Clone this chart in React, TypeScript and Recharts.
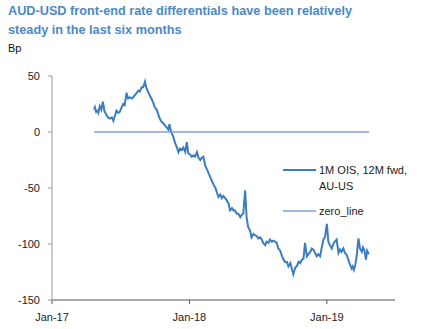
import React from 'react';
import { LineChart, Line, XAxis, YAxis, Legend } from 'recharts';

const dates = [
  '2017-04-23','2017-04-25','2017-04-28','2017-05-01','2017-05-04','2017-05-08','2017-05-12','2017-05-16','2017-05-18','2017-05-20',
  '2017-05-23','2017-05-26','2017-05-30','2017-06-04','2017-06-09','2017-06-13','2017-06-17','2017-06-21','2017-06-26','2017-06-30',
  '2017-07-05','2017-07-09','2017-07-13','2017-07-18','2017-07-22','2017-07-27','2017-08-02','2017-08-09','2017-08-14','2017-08-18',
  '2017-08-22','2017-08-27','2017-08-31','2017-09-05','2017-09-08','2017-09-13','2017-09-17','2017-09-22','2017-09-27','2017-10-01',
  '2017-10-06','2017-10-10','2017-10-14','2017-10-19','2017-10-23','2017-10-28','2017-11-02','2017-11-06','2017-11-09','2017-11-12',
  '2017-11-15','2017-11-20','2017-11-24','2017-11-29','2017-12-03','2017-12-07','2017-12-12','2017-12-16','2017-12-21','2017-12-25',
  '2017-12-29','2018-01-03','2018-01-07','2018-01-12','2018-01-16','2018-01-21','2018-01-25','2018-01-30','2018-02-03','2018-02-07',
  '2018-02-12','2018-02-16','2018-02-21','2018-02-25','2018-03-02','2018-03-06','2018-03-11','2018-03-15','2018-03-19','2018-03-24',
  '2018-03-28','2018-04-01','2018-04-06','2018-04-10','2018-04-15','2018-04-19','2018-04-24','2018-04-28','2018-05-02','2018-05-07',
  '2018-05-11','2018-05-16','2018-05-20','2018-05-24','2018-05-29','2018-06-02','2018-06-06','2018-06-11','2018-06-15','2018-06-20',
  '2018-06-24','2018-06-29','2018-07-03','2018-07-08','2018-07-12','2018-07-16','2018-07-21','2018-07-25','2018-07-30','2018-08-03',
  '2018-08-08','2018-08-12','2018-08-17','2018-08-21','2018-08-25','2018-08-30','2018-09-03','2018-09-08','2018-09-12','2018-09-17',
  '2018-09-21','2018-09-26','2018-09-30','2018-10-04','2018-10-09','2018-10-13','2018-10-18','2018-10-22','2018-10-27','2018-10-31',
  '2018-11-04','2018-11-09','2018-11-13','2018-11-18','2018-11-22','2018-11-26','2018-12-01','2018-12-05','2018-12-09','2018-12-14',
  '2018-12-18','2018-12-23','2018-12-27','2019-01-01','2019-01-05','2019-01-09','2019-01-14','2019-01-18','2019-01-22','2019-01-27',
  '2019-02-01','2019-02-05','2019-02-09','2019-02-14','2019-02-18','2019-02-23','2019-02-27','2019-03-03','2019-03-08','2019-03-11',
  '2019-03-14','2019-03-18','2019-03-21','2019-03-26','2019-03-30','2019-04-04','2019-04-07','2019-04-10','2019-04-15','2019-04-18',
  '2019-04-21','2019-04-23',
];

const oisValues = [
  20, 22, 18, 19, 17, 23, 20, 27, 24, 19,
  17, 15, 13, 12, 13, 10, 14, 19, 17, 18,
  22, 25, 24, 35, 30, 31, 30, 33, 35, 37,
  36, 40, 40, 45, 40, 36, 33, 30, 26, 22,
  20, 16, 12, 9, 8, 6, 4, 2, 7, 2,
  -1, -5, -10, -14, -18, -15, -16, -14, -18, -9,
  -19, -20, -22, -21, -22, -18, -23, -25, -23, -22,
  -30, -33, -37, -40, -44, -47, -50, -54, -58, -56,
  -59, -57, -59, -61, -64, -70, -68, -70, -70, -73,
  -73, -76, -74, -73, -52, -77, -85, -88, -94, -91,
  -92, -93, -95, -94, -96, -99, -101, -98, -99, -96,
  -98, -97, -98, -99, -104, -106, -110, -114, -116, -116,
  -120, -117, -122, -127, -121, -120, -116, -117, -114, -113,
  -99, -111, -109, -107, -104, -105, -108, -111, -109, -111,
  -104, -96, -94, -82, -98, -101, -104, -100, -98, -96,
  -108, -105, -107, -104, -108, -110, -114, -118, -122, -120,
  -123, -118, -111, -95, -104, -107, -103, -105, -114, -106,
  -108, -109,
];

const zeroLineValue = 0;
const seriesNames = ['1M OIS, 12M fwd, AU-US', 'zero_line'];
const seriesColors = ['#3b7dc0', '#7fa3d0'];
const yTicks = [-150, -100, -50, 0, 50];
const xTickDates = ['2017-01-01', '2018-01-01', '2019-01-01'];
const xDomainDates = ['2017-01-01', '2019-07-01'];
const monthNames = ['Jan', 'Feb', 'Mar', 'Apr', 'May', 'Jun', 'Jul', 'Aug', 'Sep', 'Oct', 'Nov', 'Dec'];
const titleLines = ['AUD-USD front-end rate differentials have been relatively', 'steady in the last six months'];
const unitLabel = 'Bp';

const toTime = (s: string) => Date.parse(s + 'T00:00:00Z');
const data = dates.map((d, i) => ({ t: toTime(d), ois: oisValues[i], zero: zeroLineValue }));

const fmtDate = (t: number) => {
  const d = new Date(t);
  return `${monthNames[d.getUTCMonth()]}-${String(d.getUTCFullYear()).slice(2)}`;
};

const FONT = '"Liberation Sans", Arial, sans-serif';

const legendTops = [170, 211];

const renderLegend = (props: any) => {
  const payload = props.payload || [];
  return (
    <div style={{ position: 'relative', width: 0, height: 0 }}>
      {payload.map((entry: any, i: number) => (
        <div key={i}>
          <svg style={{ position: 'absolute', left: 283, top: legendTops[i] - 2, overflow: 'visible' }} width={34} height={4}>
            <line x1={0} y1={2} x2={33} y2={2} stroke={entry.color} strokeWidth={i === 0 ? 2 : 1.6} />
          </svg>
          <div
            style={{
              position: 'absolute',
              left: 319,
              top: legendTops[i] - 8.25,
              width: 92,
              fontFamily: FONT,
              fontSize: 11,
              lineHeight: '16.5px',
              color: '#222',
            }}
          >
            {entry.value}
          </div>
        </div>
      ))}
    </div>
  );
};

export default function App() {
  return (
    <div style={{ position: 'absolute', left: 0, top: 0, width: 421, height: 329, background: '#fff', fontFamily: FONT }}>
      <div
        style={{
          position: 'absolute',
          left: 8,
          top: 2,
          fontFamily: FONT,
          fontWeight: 'bold',
          fontSize: 12.7,
          lineHeight: '19px',
          color: '#4a89c8',
          whiteSpace: 'nowrap',
        }}
      >
        {titleLines[0]}
        <br />
        {titleLines[1]}
      </div>
      <div style={{ position: 'absolute', left: 8, top: 42, fontFamily: FONT, fontSize: 11, lineHeight: '13px', color: '#111' }}>
        {unitLabel}
      </div>
      <div style={{ position: 'absolute', left: 0, top: 0 }}>
        <LineChart width={421} height={329} data={data} margin={{ top: 76, right: 26, bottom: 9, left: 8 }}>
          <XAxis
            dataKey="t"
            type="number"
            domain={[toTime(xDomainDates[0]), toTime(xDomainDates[1])]}
            ticks={xTickDates.map(toTime)}
            tickFormatter={fmtDate}
            allowDataOverflow
            height={20}
            tickSize={4}
            tickMargin={9}
            axisLine={{ stroke: '#555' }}
            tickLine={{ stroke: '#555' }}
            tick={{ fill: '#222', fontSize: 11, fontFamily: FONT }}
          />
          <YAxis
            domain={[-150, 50]}
            ticks={yTicks}
            interval={0}
            width={44}
            tickSize={4}
            tickMargin={8}
            axisLine={{ stroke: '#999' }}
            tickLine={{ stroke: '#999' }}
            tick={{ fill: '#222', fontSize: 11, fontFamily: FONT }}
          />
          <Legend
            content={renderLegend}
            wrapperStyle={{ position: 'absolute', left: 0, top: 0, width: 0, height: 0, overflow: 'visible' }}
          />
          <Line
            dataKey="ois"
            name={seriesNames[0]}
            stroke={seriesColors[0]}
            strokeWidth={2}
            dot={false}
            type="linear"
            isAnimationActive={false}
          />
          <Line
            dataKey="zero"
            name={seriesNames[1]}
            stroke={seriesColors[1]}
            strokeWidth={1.6}
            dot={false}
            type="linear"
            isAnimationActive={false}
          />
        </LineChart>
      </div>
    </div>
  );
}
